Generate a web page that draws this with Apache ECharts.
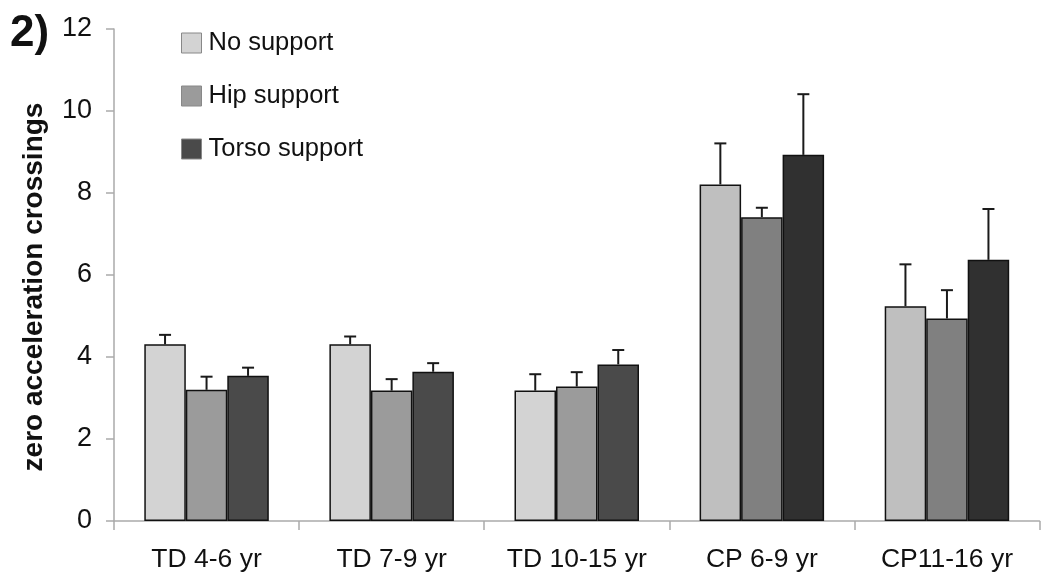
<!DOCTYPE html>
<html>
<head>
<meta charset="utf-8">
<script src="https://cdn.jsdelivr.net/npm/echarts@6/dist/echarts.min.js"></script>
<style>html,body{margin:0;padding:0;background:#fff}#c{width:1050px;height:587px}</style>
</head>
<body>
<div id="c"></div>
<script>
const categories = ['TD 4-6 yr', 'TD 7-9 yr', 'TD 10-15 yr', 'CP 6-9 yr', 'CP11-16 yr'];
const seriesNames = ['No support', 'Hip support', 'Torso support'];
const noSupport = [4.31, 4.31, 3.18, 8.21, 5.24];
const hipSupport = [3.20, 3.18, 3.28, 7.41, 4.94];
const torsoSupport = [3.54, 3.64, 3.82, 8.93, 6.37];
const noSupportErr = [0.23, 0.19, 0.40, 1.00, 1.02];
const hipSupportErr = [0.32, 0.28, 0.35, 0.23, 0.69];
const torsoSupportErr = [0.20, 0.21, 0.35, 1.48, 1.24];
const yTicks = [0, 2, 4, 6, 8, 10, 12];

const values = [noSupport, hipSupport, torsoSupport];
const errs = [noSupportErr, hipSupportErr, torsoSupportErr];
// TD groups use lighter textured shades, CP groups darker flat shades
const tdColors = ['#d3d3d3', '#9b9b9b', '#4a4a4a'];
const cpColors = ['#bfbfbf', '#808080', '#303030'];
const BAR_W = 41.5;

const chart = echarts.init(document.getElementById('c'));
const FONT = '"Liberation Sans", Arial, sans-serif';

const barSeries = values.map((arr, s) => ({
  name: seriesNames[s],
  type: 'bar',
  barWidth: BAR_W,
  barGap: '0%',
  itemStyle: { color: tdColors[s], borderColor: '#111', borderWidth: 1.5 },
  data: arr.map((v, i) => ({
    value: v,
    itemStyle: { color: categories[i].startsWith('CP') ? cpColors[s] : tdColors[s] }
  })),
  z: 2
}));

const errData = [];
values.forEach((arr, s) => arr.forEach((v, i) => errData.push([i, v, v + errs[s][i], s])));

const errSeries = {
  type: 'custom',
  name: 'err',
  z: 1,
  renderItem: function (params, api) {
    const i = api.value(0), s = api.value(3);
    const base = api.coord([i, api.value(1)]);
    const top = api.coord([i, api.value(2)]);
    const x = base[0] + (s - 1) * BAR_W;
    const cap = 6;
    const style = { stroke: '#1a1a1a', lineWidth: 2, fill: null };
    return {
      type: 'group',
      children: [
        { type: 'line', shape: { x1: x, y1: base[1], x2: x, y2: top[1] }, style: style },
        { type: 'line', shape: { x1: x - cap, y1: top[1], x2: x + cap, y2: top[1] }, style: style }
      ]
    };
  },
  data: errData,
  encode: { x: 0, y: 2 },
  silent: true
};

chart.setOption({
  animation: false,
  backgroundColor: '#fff',
  textStyle: { fontFamily: FONT },
  graphic: [{
    type: 'text', left: 10, top: 12,
    style: { text: '2)', font: 'bold 44px ' + FONT, fill: '#111' }
  }],
  legend: {
    data: seriesNames,
    orient: 'vertical',
    left: 181, top: 30,
    padding: 0,
    itemWidth: 20, itemHeight: 20, itemGap: 27,
    icon: 'rect',
    textStyle: { fontSize: 25.5, color: '#111', fontFamily: FONT, lineHeight: 20, padding: [0, 0, 0, 2] },
    itemStyle: { borderColor: '#888', borderWidth: 1 }
  },
  grid: { left: 114, right: 10.5, top: 29, bottom: 66, containLabel: false },
  xAxis: {
    type: 'category',
    data: categories,
    axisLine: { lineStyle: { color: '#aaa', width: 1.5 } },
    axisTick: { show: true, length: 9, lineStyle: { color: '#aaa', width: 1.5 } },
    axisLabel: { fontSize: 26.5, color: '#111', margin: 25, interval: 0, fontFamily: FONT }
  },
  yAxis: {
    type: 'value',
    min: yTicks[0], max: yTicks[yTicks.length - 1], interval: 2,
    name: 'zero acceleration crossings',
    nameLocation: 'middle',
    nameGap: 66,
    nameTextStyle: { fontSize: 28, fontWeight: 'bold', color: '#111', fontFamily: FONT, padding: [0, 24, 0, 0] },
    splitLine: { show: false },
    axisLine: { show: true, lineStyle: { color: '#aaa', width: 1.5 } },
    axisTick: { show: true, length: 8, lineStyle: { color: '#aaa', width: 1.5 } },
    axisLabel: { fontSize: 27, color: '#111', margin: 22, fontFamily: FONT }
  },
  series: barSeries.concat([errSeries])
});
</script>
</body>
</html>
